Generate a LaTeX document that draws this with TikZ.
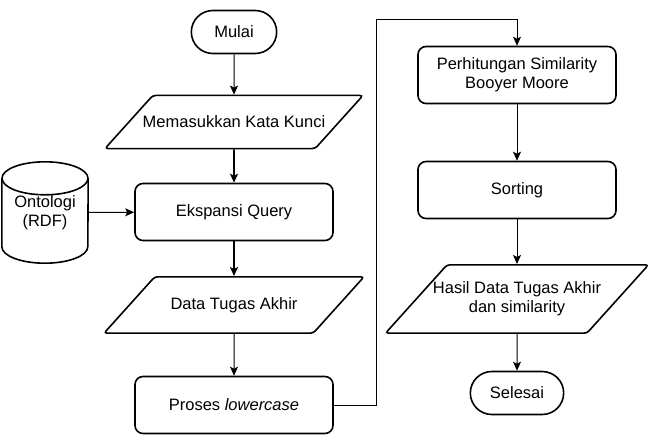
\documentclass[tikz,border=0pt]{standalone}
\usepackage{fontspec}
\setmainfont{Liberation Sans}
\usetikzlibrary{shapes.geometric, shapes.misc, arrows.meta, positioning}

\tikzset{
  terminal/.style={draw, rounded rectangle, line width=1.6pt,
    minimum width=92pt, minimum height=43pt},
  proses/.style={draw, rectangle, rounded corners=8pt, line width=1.6pt,
    minimum width=198pt, minimum height=57pt, align=center},
  io/.style={draw, trapezium, trapezium left angle=48, trapezium right angle=132,
    trapezium stretches body, rounded corners=3pt, line width=1.6pt,
    minimum width=258pt, inner xsep=0pt, inner ysep=20.5pt, align=center},
  database/.style={rectangle, minimum width=86pt, minimum height=101pt,
    inner sep=0pt, align=center},
  garis/.style={line width=1.6pt},
  panah/.style={-{Stealth[length=9pt, width=8pt, inset=2pt]}, line width=1pt},
  tebal/.style={panah, line width=1.6pt}
}

\begin{document}
\begin{tikzpicture}[x=1pt, y=-1pt, font=\fontsize{16.5}{19}\selectfont]

  \useasboundingbox (0, 0) rectangle (650, 439);

  % kolom kiri
  \node[terminal] (mulai) at (234, 32) {Mulai};
  \node[io, inner xsep=-13pt] (kunci) at (234, 122) {Memasukkan Kata Kunci};
  \node[proses] (ekspansi) at (234, 212) {Ekspansi Query};
  \node[database] (ontologi) at (45, 212.5) {Ontologi\\(RDF)};
  \node[io, minimum width=260pt] (data) at (234, 305) {Data Tugas Akhir};
  \node[proses] (lowercase) at (234, 405) {Proses \textit{lowercase}};

  % silinder basis data
  \draw[garis] ([yshift=-16.5pt]ontologi.north west)
    -- ([yshift=16.5pt]ontologi.south west)
    arc[start angle=180, end angle=360, x radius=43pt, y radius=16.5pt]
    -- ([yshift=-16.5pt]ontologi.north east);
  \draw[garis] ([yshift=-16.5pt]ontologi.north)
    ellipse[x radius=43pt, y radius=16.5pt];

  % kolom kanan
  \node[proses] (similarity) at (517, 75) {Perhitungan Similarity\\Booyer Moore};
  \node[proses] (sorting) at (517, 190) {Sorting};
  \node[io, minimum width=263pt, inner xsep=-17pt, inner ysep=17pt] (hasil)
    at (517, 299) {Hasil Data Tugas Akhir\\dan similarity};
  \node[terminal, minimum width=100pt] (selesai) at (517, 393) {Selesai};

  \coordinate (belok) at (376, 19);

  \draw[panah] (mulai) -- (kunci);
  \draw[tebal] (kunci) -- (ekspansi);
  \draw[panah] (ontologi) -- (ekspansi);
  \draw[tebal] (ekspansi) -- (data);
  \draw[panah] (data) -- (lowercase);
  \draw[panah] (lowercase.east) -| (belok) -| (similarity.north);
  \draw[panah] (similarity) -- (sorting);
  \draw[panah] (sorting) -- (hasil);
  \draw[panah] (hasil) -- (selesai);

\end{tikzpicture}
\end{document}
